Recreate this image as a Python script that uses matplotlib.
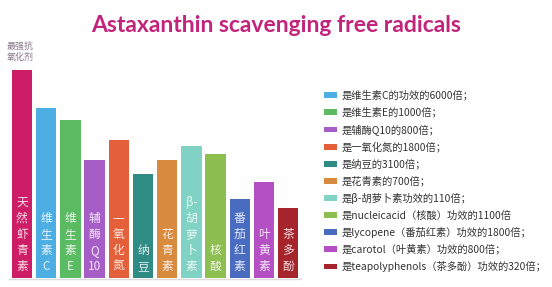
import numpy as np
import matplotlib
matplotlib.use('Agg')
import matplotlib.pyplot as plt

plt.rcParams['font.family'] = ['Noto Sans CJK SC', 'DejaVu Sans']

# Bar names (stacked vertically inside bars) and relative heights
names = ['天然虾青素', '维生素C', '维生素E', '辅酶Q10', '一氧化氮', '纳豆',
         '花青素', 'β-胡萝卜素', '核酸', '番茄红素', '叶黄素', '茶多酚']
heights = [208, 170, 158, 118, 138, 104, 118, 132, 124, 79, 96, 70]
colors = ['#CC1D66', '#4DAEE4', '#5BBB62', '#A75DC8', '#E4603B', '#2F8C84',
          '#D88A3F', '#80D2C4', '#8DBE50', '#4A6CC0', '#B44FC4', '#A6242C']
legend_labels = ['是维生素C的功效的6000倍；', '是维生素E的1000倍；', '是辅酶Q10的800倍；',
                 '是一氧化氮的1800倍；', '是纳豆的3100倍；', '是花青素的700倍；',
                 '是β-胡萝卜素功效的110倍；', '是nucleicacid（核酸）功效的1100倍',
                 '是lycopene（番茄红素）功效的1800倍；', '是carotol（叶黄素）功效的800倍；',
                 '是teapolyphenols（茶多酚）功效的320倍；']

# stacked label text: split into characters, keep "10" and "β-" groups
def stack(name):
    out = []
    i = 0
    while i < len(name):
        ch = name[i]
        if ch.isdigit() and i + 1 < len(name) and name[i + 1].isdigit():
            out.append(name[i:i + 2]); i += 2
        elif ch == 'β' and i + 1 < len(name) and name[i + 1] == '-':
            out.append('β-'); i += 2
        else:
            out.append(ch); i += 1
    return '\n'.join(out)

W, H = 552, 287
fig = plt.figure(figsize=(W / 100, H / 100), dpi=100)
ax = fig.add_axes([0, 9 / H, 310 / W, 238 / H])
x = np.arange(len(heights))
bars = ax.bar(x, heights, width=0.85, color=colors)
ax.set_xlim(-22 / 24.2, (310 - 22) / 24.2)
ax.set_ylim(0, 238)
ax.axhline(-1, color='#dddddd', lw=1, xmin=0.03, xmax=0.97, clip_on=False)
ax.axis('off')

for xi, n in zip(x, names):
    ax.text(xi, 5, stack(n), ha='center', va='bottom', color='white',
            fontsize=8.5, linespacing=1.3, alpha=0.85)

fig.text(20 / W, 1 - 52 / H, '最强抗\n氧化剂', ha='center', va='center',
         fontsize=6.5, color='#8a7a8a', linespacing=1.3)

fig.text(0.5, 1 - 25 / H, 'Astaxanthin scavenging free radicals', ha='center',
         va='center', fontsize=16.5, fontweight='bold', color='#C2237B',
         family=['Lato', 'DejaVu Sans'])

fig.legend(bars.patches[1:], legend_labels, loc='upper left',
           bbox_to_anchor=(319 / W, 1 - 85 / H), frameon=False, fontsize=7.4,
           handlelength=1.25, handleheight=0.5, handletextpad=0.45,
           labelspacing=0.62, borderpad=0, labelcolor='#333333')

fig.savefig('out.png', dpi=100, facecolor='white')
